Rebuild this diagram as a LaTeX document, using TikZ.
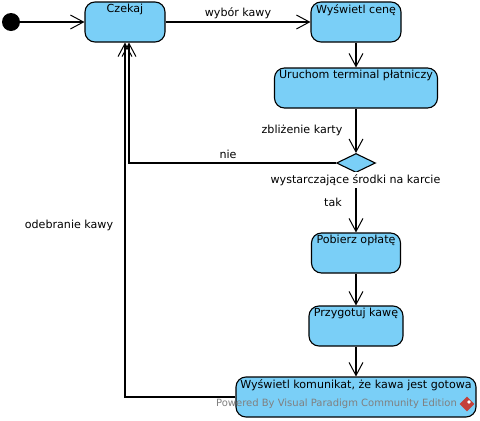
\documentclass[tikz,border=0pt]{standalone}
\usepackage{fontspec}
\setmainfont{DejaVu Sans}
\usetikzlibrary{arrows.meta,shapes.geometric}
\definecolor{statefill}{HTML}{7ACFF7}
\definecolor{logored}{HTML}{C4403A}
\begin{document}
\begin{tikzpicture}
[
    x=1pt, y=-1pt,
    every node/.style={font=\fontsize{11.1}{13}\selectfont},
    open/.style={-{Straight Barb[length=13pt,width=14pt,line width=1pt]}, line width=1.1pt},
    state/.style={draw, line width=1.1pt, fill=statefill, rounded corners=10pt, inner sep=0pt},
    stateat/.style 2 args={state, minimum width=#1, minimum height=#2},
    title/.style={anchor=north, inner sep=0pt, yshift=-2.5pt},
    edgetext/.style={inner sep=0pt},
]
\useasboundingbox (0,0) rectangle (480,421);
\node [circle, fill=black, minimum size=18pt, inner sep=0pt] (start) at (11,22) {};
\node [stateat={80pt}{40pt}, label={[title]north:Czekaj}] (czekaj) at (125,22) {};
\node [stateat={90pt}{40pt}, label={[title]north:Wyświetl cenę}] (cena) at (356,22) {};
\node [stateat={163pt}{40pt}, label={[title]north:Uruchom terminal płatniczy}] (terminal) at (356,88) {};
\node [diamond, draw, line width=1.1pt, fill=statefill, minimum width=39pt, minimum height=19pt, inner sep=0pt] (srodki) at (356,163) {};
\node [stateat={89pt}{40pt}, label={[title]north:Pobierz opłatę}] (oplata) at (356,253) {};
\node [stateat={94pt}{40pt}, label={[title]north:Przygotuj kawę}] (kawa) at (356,326) {};
\node [stateat={240pt}{40pt}, label={[title]north:Wyświetl komunikat, że kawa jest gotowa}] (komunikat) at (356,397) {};

\draw [open] (start) -- (czekaj);
\draw [open] (czekaj) -- (cena);
\draw [open] (cena) -- (terminal);
\draw [open] (terminal) -- (srodki);
\draw [open] (srodki.west) -| ([xshift=4pt]czekaj.south);
\draw [open] (srodki) -- (oplata);
\draw [open] (oplata) -- (kawa);
\draw [open] (kawa) -- (komunikat);
\draw [open] (komunikat.west) -| (czekaj.south);

\node [edgetext] (wybor) at (238,13) {wybór kawy};
\node [edgetext] (zblizenie) at (302,130) {zbliżenie karty};
\node [edgetext] (nie) at (228,154) {nie};
\node [edgetext, fill=white, inner ysep=2pt] (warunek) at (355.5,180) {wystarczające środki na karcie};
\node [edgetext] (tak) at (333,202) {tak};
\node [edgetext] (odebranie) at (69,225) {odebranie kawy};

\node [inner sep=0pt, text=black!50, font=\fontsize{10}{12}\selectfont] (brand) at (336.5,404) {Powered By Visual Paradigm Community Edition};
\node [diamond, fill=logored, minimum size=15pt, inner sep=0pt] (logo) at (467,404) {};
\node [diamond, fill=white, minimum size=4pt, inner sep=0pt] (logomark) at (469,402) {};
\end{tikzpicture}
\end{document}
